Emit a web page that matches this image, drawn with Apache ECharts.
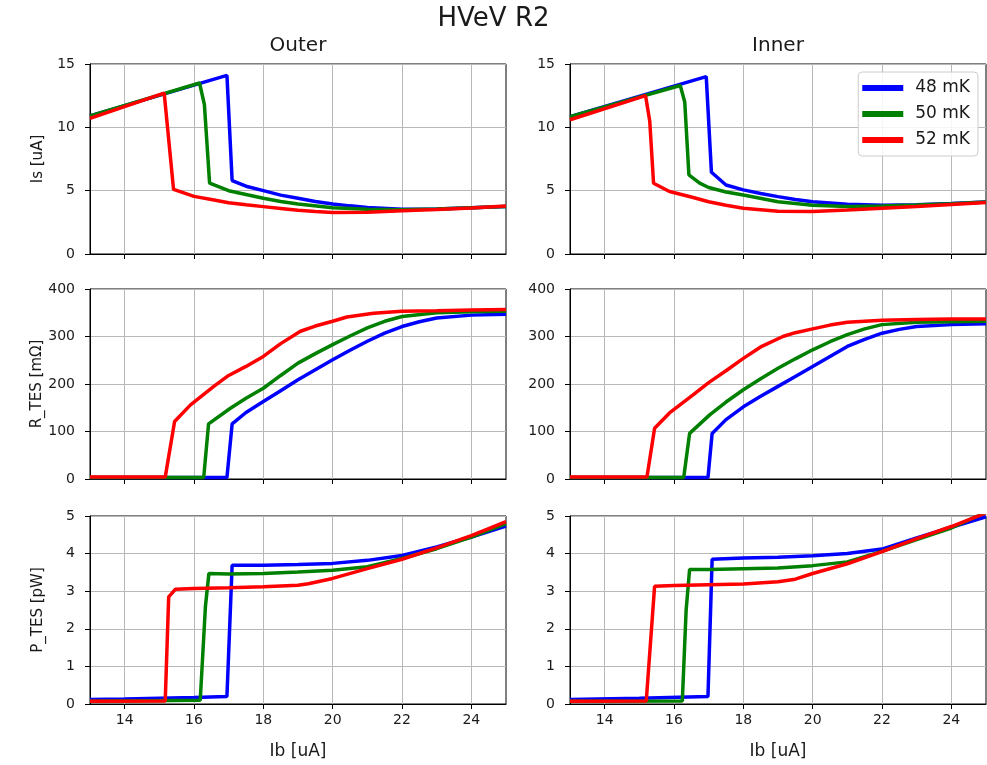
<!doctype html>
<html>

<head>
    <meta charset="utf-8">
    <title>HVeV R2</title>
    <script src="https://cdn.jsdelivr.net/npm/echarts@6/dist/echarts.min.js"></script>
</head>

<body style="margin:0;background:white;">
    <div id="container" style="width:987px;height:765px;"></div>
    <script type="text/javascript">
        // 图例与颜色
        var temps = ['48 mK', '50 mK', '52 mK'];
        var colors = ['#0000ff', '#008000', '#ff0000'];
        var xTicks = [14, 16, 18, 20, 22, 24];
        var colTitles = ['Outer', 'Inner'];
        var rowNames = ['Is [uA]', 'R_TES [mΩ]', 'P_TES [pW]'];
        var rowMax = [15, 400, 5];
        var rowStep = [5, 100, 1];

        // Is [uA]
        var outerIs48 = [[13, 10.9], [16.95, 14.1], [17.1, 5.8], [17.5, 5.35], [18, 5.0], [18.5, 4.65], [19, 4.4], [19.5, 4.15], [20, 3.95], [20.5, 3.8], [21, 3.68], [22, 3.53], [23, 3.55], [24, 3.65], [25, 3.75]];
        var outerIs50 = [[13, 10.9], [16.16, 13.5], [16.3, 11.8], [16.45, 5.6], [17, 5.0], [17.5, 4.7], [18, 4.4], [18.5, 4.15], [19, 3.95], [20, 3.65], [21, 3.53], [22, 3.5], [23, 3.55], [24, 3.65], [25, 3.75]];
        var outerIs52 = [[13, 10.7], [15.14, 12.7], [15.41, 5.1], [16, 4.55], [16.5, 4.3], [17, 4.05], [17.5, 3.88], [18, 3.74], [18.5, 3.6], [19, 3.45], [19.5, 3.35], [20, 3.28], [21, 3.3], [22, 3.42], [23, 3.52], [24, 3.63], [25, 3.78]];
        var innerIs48 = [[13, 10.85], [16.93, 14.0], [17.08, 6.45], [17.5, 5.45], [18, 5.06], [18.5, 4.78], [19, 4.53], [19.5, 4.3], [20, 4.13], [21, 3.93], [22, 3.85], [23, 3.88], [24, 3.98], [25, 4.1]];
        var innerIs50 = [[13, 10.85], [16.18, 13.3], [16.31, 12.0], [16.43, 6.24], [16.74, 5.59], [17, 5.25], [17.5, 4.9], [18, 4.66], [19, 4.13], [20, 3.85], [21, 3.75], [22, 3.78], [23, 3.86], [24, 3.97], [25, 4.1]];
        var innerIs52 = [[13, 10.6], [15.18, 12.5], [15.3, 10.5], [15.41, 5.59], [15.87, 4.93], [16.5, 4.5], [17, 4.13], [17.5, 3.85], [18, 3.61], [19, 3.38], [20, 3.35], [21, 3.48], [22, 3.62], [23, 3.75], [24, 3.9], [25, 4.06]];

        // R_TES [mΩ]
        var outerR48 = [[13, 3], [16.95, 3], [17.1, 116], [17.5, 140], [18, 163], [18.5, 186], [19, 209], [19.5, 230], [20, 251], [20.5, 271], [21, 290], [21.5, 307], [22, 321], [22.5, 331], [23, 339], [24, 345], [25, 347]];
        var outerR50 = [[13, 3], [16.28, 3], [16.42, 116], [17.05, 149], [17.5, 170], [18, 191], [18.5, 218], [19, 244], [19.5, 264], [20, 283], [20.5, 301], [21, 318], [21.5, 332], [22, 342], [23, 350], [24, 352], [25, 353]];
        var outerR52 = [[13, 4], [15.17, 4], [15.44, 121], [15.9, 156], [16.57, 195], [17, 218], [17.5, 237], [18, 258], [18.5, 285], [19.07, 311], [19.5, 322], [20, 332], [20.41, 341], [21.18, 349], [22, 353], [23, 354], [24, 356], [25, 357]];
        var innerR48 = [[13, 3], [16.98, 3], [17.1, 96], [17.5, 125], [18, 152], [18.5, 174], [19, 195], [19.5, 216], [20, 237], [20.5, 258], [21, 279], [21.5, 294], [22, 307], [22.5, 315], [23, 321], [24, 325], [25, 327]];
        var innerR50 = [[13, 3], [16.28, 3], [16.45, 96], [17.03, 135], [17.5, 162], [18, 188], [18.5, 211], [19, 233], [19.5, 253], [20, 272], [20.5, 289], [21, 304], [21.5, 316], [22, 325], [23, 330], [24, 331], [25, 332]];
        var innerR52 = [[13, 4], [15.22, 4], [15.44, 107], [15.87, 139], [16.55, 177], [17, 203], [17.5, 228], [18, 254], [18.5, 278], [19.14, 300], [19.5, 308], [20, 316], [20.5, 324], [21, 330], [22, 334], [23, 336], [24, 337], [25, 337]];

        // P_TES [pW]
        var outerP48 = [[13, 0.12], [14, 0.13], [15, 0.15], [16, 0.17], [16.95, 0.2], [17.1, 3.69], [18, 3.69], [19, 3.71], [20, 3.74], [21, 3.82], [22, 3.95], [23, 4.18], [24, 4.44], [25, 4.73]];
        var outerP50 = [[13, 0.07], [16.18, 0.1], [16.33, 2.6], [16.43, 3.47], [17, 3.46], [18, 3.47], [19, 3.51], [20, 3.56], [21, 3.65], [22, 3.87], [23, 4.13], [24, 4.44], [25, 4.8]];
        var outerP52 = [[13, 0.07], [15.17, 0.08], [15.27, 2.85], [15.46, 3.05], [16, 3.07], [17, 3.09], [18, 3.12], [19, 3.16], [19.3, 3.2], [20, 3.34], [21, 3.6], [22, 3.85], [23, 4.15], [24, 4.48], [25, 4.85]];
        var innerP48 = [[13, 0.12], [15, 0.15], [16.98, 0.2], [17.1, 3.85], [18, 3.88], [19, 3.9], [20, 3.94], [21, 4.0], [22, 4.12], [23, 4.42], [24, 4.7], [25, 4.98]];
        var innerP50 = [[13, 0.07], [16.24, 0.08], [16.35, 2.5], [16.45, 3.58], [17, 3.58], [18, 3.6], [19, 3.62], [20, 3.68], [21, 3.78], [22, 4.06], [23, 4.37], [24, 4.68], [25, 5.1]];
        var innerP52 = [[13, 0.07], [15.2, 0.08], [15.44, 3.13], [16, 3.15], [17, 3.17], [18, 3.19], [19, 3.25], [19.5, 3.32], [20, 3.47], [21, 3.73], [22, 4.05], [23, 4.4], [24, 4.72], [25, 5.08]];

        // 按行、列排列的子图
        var panels = [
            [[outerIs48, outerIs50, outerIs52], [innerIs48, innerIs50, innerIs52]],
            [[outerR48, outerR50, outerR52], [innerR48, innerR50, innerR52]],
            [[outerP48, outerP50, outerP52], [innerP48, innerP50, innerP52]]
        ];

        var lefts = [90, 570];
        var tops = [64, 289, 516];
        var heights = [190, 190, 188];
        var font = 'DejaVu Sans';
        var txt = '#1a1a1a';

        var grids = [], xAxes = [], yAxes = [], series = [];
        for (var r = 0; r < 3; r++) {
            for (var c = 0; c < 2; c++) {
                var gi = grids.length;
                grids.push({
                    left: lefts[c], top: tops[r], width: 416, height: heights[r],
                    show: true, borderColor: '#000', borderWidth: 1
                });
                xAxes.push({
                    type: 'value', gridIndex: gi, min: 13, max: 25,
                    name: r == 2 ? 'Ib [uA]' : '',
                    nameLocation: 'middle', nameGap: 39,
                    nameTextStyle: { fontFamily: font, fontSize: 17, color: txt },
                    axisLine: { show: true, onZero: false, lineStyle: { color: '#000' } },
                    axisTick: { show: true, length: 5, customValues: xTicks, lineStyle: { color: '#000' } },
                    axisLabel: { show: r == 2, customValues: xTicks, fontFamily: font, fontSize: 14, color: txt, margin: 9 },
                    splitLine: { show: true, lineStyle: { color: '#b8b8b8', width: 1 } }
                });
                yAxes.push({
                    type: 'value', gridIndex: gi, min: 0, max: rowMax[r], interval: rowStep[r],
                    name: c == 0 ? rowNames[r] : '',
                    nameLocation: 'middle', nameRotate: 90, nameGap: 44,
                    nameTextStyle: { fontFamily: font, fontSize: 15, color: txt },
                    axisLine: { show: true, onZero: false, lineStyle: { color: '#000' } },
                    axisTick: { show: true, length: 5, lineStyle: { color: '#000' } },
                    axisLabel: { fontFamily: font, fontSize: 14, color: txt, margin: 15 },
                    splitLine: { show: true, lineStyle: { color: '#b8b8b8', width: 1 } }
                });
                for (var k = 0; k < 3; k++) {
                    series.push({
                        name: temps[k], type: 'line', xAxisIndex: gi, yAxisIndex: gi,
                        data: panels[r][c][k], showSymbol: false, symbol: 'none',
                        color: colors[k], lineStyle: { color: colors[k], width: 3.5 },
                        animation: false, z: 2 + k
                    });
                }
            }
        }

        var option = {
            backgroundColor: '#fff',
            animation: false,
            title: {
                text: 'HVeV R2', left: 'center', top: 1,
                textStyle: { fontFamily: font, fontSize: 26, fontWeight: 'normal', color: txt }
            },
            legend: {
                data: temps, orient: 'vertical', right: 9, top: 72,
                icon: 'rect', itemWidth: 41, itemHeight: 6, itemGap: 6,
                backgroundColor: 'rgba(255,255,255,0.85)', borderColor: '#ccc', borderWidth: 1, borderRadius: 4,
                padding: [6, 8, 6, 4],
                textStyle: { fontFamily: font, fontSize: 17, lineHeight: 20, color: txt, padding: [0, 0, 0, 7] },
                selectedMode: false
            },
            graphic: colTitles.map(function (t, i) {
                return {
                    type: 'text', x: lefts[i] + 208, y: 46,
                    style: { text: t, fontFamily: font, fontSize: 20, fill: txt, textAlign: 'center', textVerticalAlign: 'middle' }
                };
            }),
            grid: grids,
            xAxis: xAxes,
            yAxis: yAxes,
            series: series
        };

        var myChart = echarts.init(document.getElementById('container'));
        myChart.setOption(option);
    </script>
</body>

</html>
